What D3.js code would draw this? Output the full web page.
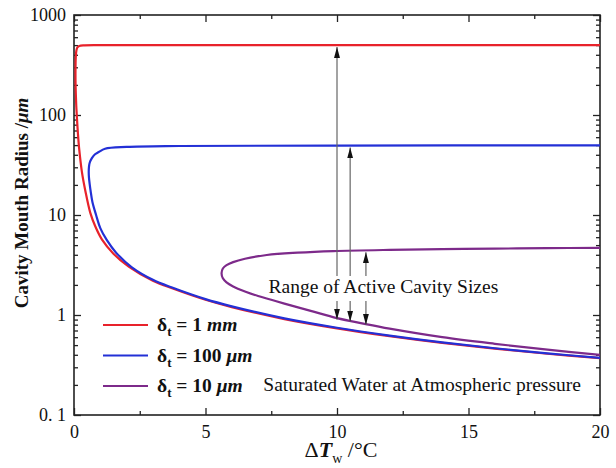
<!DOCTYPE html>
<html>
<head>
<meta charset="utf-8">
<script src="https://cdn.jsdelivr.net/npm/d3@7"></script>
<style>
  body { margin: 0; background: #fff; }
  svg text { font-family: "Liberation Serif", "Times New Roman", serif; fill: #111; }
</style>
</head>
<body>
<svg id="chart" width="616" height="468"></svg>
<script>
// wall superheat (°C) and cavity mouth radius (µm).
// each curve: upper branch from the right, round the nose, then out along the lower branch
const dT_1mm = [20, 10, 4, 1, 0.4, 0.2, 0.13, 0.1, 0.08, 0.068, 0.06, 0.056,
  0.06, 0.07, 0.085, 0.11, 0.15, 0.2, 0.3, 0.43, 0.62, 0.8, 1.06, 1.5, 2.08, 3, 3.73, 5, 6, 8, 10, 12, 14, 16, 18, 20];
const r_1mm = [500, 500, 499.5, 499, 497, 490, 474, 452, 420, 380, 330, 260,
  200, 160, 125, 95, 65, 45, 27, 17.5, 10.5, 7.8, 5.7, 4.1, 3.05, 2.2, 1.85, 1.42, 1.2, 0.91, 0.735, 0.615, 0.527, 0.462, 0.41, 0.37];

const dT_100um = [20, 10, 4, 2, 1.18, 0.94, 0.8, 0.68, 0.6, 0.57, 0.56,
  0.57, 0.6, 0.63, 0.7, 0.84, 1.0, 1.25, 1.6, 2.2, 3, 3.73, 5, 6, 8, 10, 12, 14, 16, 18, 20];
const r_100um = [49.8, 49.5, 49, 48, 46, 42.6, 40.5, 37, 33.5, 30.5, 27,
  23.5, 20, 17.5, 13.5, 10, 7.4, 5.6, 4.2, 3.0, 2.25, 1.88, 1.44, 1.22, 0.925, 0.745, 0.622, 0.532, 0.465, 0.413, 0.373];

const dT_10um = [20, 18, 16, 14, 12, 9.86, 8.5, 7.33, 6.5, 6.05, 5.8, 5.66, 5.61,
  5.66, 5.8, 6.05, 6.5, 7, 7.5, 8, 9, 10, 11, 12, 14, 16, 18, 20];
const r_10um = [4.7, 4.66, 4.61, 4.55, 4.48, 4.36, 4.2, 3.98, 3.65, 3.38, 3.15, 2.92, 2.62,
  2.33, 2.12, 1.93, 1.72, 1.55, 1.42, 1.3, 1.1, 0.93, 0.82, 0.73, 0.6, 0.515, 0.45, 0.4];

const seriesValue = ["1", "100", "10"];
const seriesUnit = ["mm", "μm", "μm"];
const seriesColor = ["#e8222b", "#2330d6", "#7d2a8a"];

const xTicks = [0, 5, 10, 15, 20];
const xMinorTicks = [2.5, 7.5, 12.5, 17.5];
const yTicks = [0.1, 1, 10, 100, 1000];
const yTickLabels = ["0. 1", "1", "10", "100", "1000"];

// the range-of-active-sizes arrows
const arrowDT = [10, 10.5, 11.1];
const arrowTop = [500, 49.6, 4.45];
const arrowBottom = [0.9, 0.86, 0.8];

const margin = { left: 74, right: 16, top: 15, bottom: 53 };
const W = 616, H = 468;

const svg = d3.select('#chart');

const x = d3.scaleLinear().domain([0, 20]).range([margin.left, W - margin.right]);
const y = d3.scaleLog().domain([0.1, 1000]).range([H - margin.bottom, margin.top]);

const series = [
  { dT: dT_1mm, r: r_1mm },
  { dT: dT_100um, r: r_100um },
  { dT: dT_10um, r: r_10um }
].map((s, i) => ({
  points: s.dT.map((t, j) => [t, s.r[j]]),
  color: seriesColor[i], value: seriesValue[i], unit: seriesUnit[i]
}));

let yMinor = [];
yTicks.slice(0, -1).forEach(d => {
  for (let k = 2; k <= 9; k++) yMinor.push(d * k);
});

svg.append('clipPath').attr('id', 'plotclip')
  .append('rect')
  .attr('x', x(0)).attr('y', y(1000))
  .attr('width', x(20) - x(0)).attr('height', y(0.1) - y(1000));

// axes, ticks pointing inward on all four sides
const styleAxis = (g) => {
  g.select('.domain').remove();
  g.selectAll('.tick line').attr('stroke', '#222').attr('stroke-width', 1.3);
  g.selectAll('.tick text').attr('font-size', 18).attr('fill', '#111')
    .style('font-family', '"Liberation Serif", "Times New Roman", serif');
};

svg.append('g').attr('transform', `translate(0,${y(0.1)})`)
  .call(d3.axisBottom(x).tickValues(xTicks).tickSize(-7).tickSizeOuter(0).tickPadding(10))
  .call(styleAxis);
svg.append('g').attr('transform', `translate(0,${y(0.1)})`)
  .call(d3.axisBottom(x).tickValues(xMinorTicks).tickSize(-4).tickSizeOuter(0).tickFormat(''))
  .call(styleAxis);
svg.append('g').attr('transform', `translate(0,${y(1000)})`)
  .call(d3.axisTop(x).tickValues(xTicks).tickSize(-7).tickSizeOuter(0).tickFormat(''))
  .call(styleAxis);
svg.append('g').attr('transform', `translate(0,${y(1000)})`)
  .call(d3.axisTop(x).tickValues(xMinorTicks).tickSize(-4).tickSizeOuter(0).tickFormat(''))
  .call(styleAxis);

svg.append('g').attr('transform', `translate(${x(0)},0)`)
  .call(d3.axisLeft(y).tickValues(yTicks).tickSize(-7).tickSizeOuter(0).tickPadding(8)
    .tickFormat((d, i) => yTickLabels[i]))
  .call(styleAxis);
svg.append('g').attr('transform', `translate(${x(0)},0)`)
  .call(d3.axisLeft(y).tickValues(yMinor).tickSize(-4).tickSizeOuter(0).tickFormat(''))
  .call(styleAxis);
svg.append('g').attr('transform', `translate(${x(20)},0)`)
  .call(d3.axisRight(y).tickValues(yTicks).tickSize(-7).tickSizeOuter(0).tickFormat(''))
  .call(styleAxis);
svg.append('g').attr('transform', `translate(${x(20)},0)`)
  .call(d3.axisRight(y).tickValues(yMinor).tickSize(-4).tickSizeOuter(0).tickFormat(''))
  .call(styleAxis);

svg.append('rect')
  .attr('x', x(0)).attr('y', y(1000))
  .attr('width', x(20) - x(0)).attr('height', y(0.1) - y(1000))
  .attr('fill', 'none').attr('stroke', '#222').attr('stroke-width', 1.6);

// curves
const line = d3.line()
  .x(d => x(d[0])).y(d => y(d[1]))
  .curve(d3.curveCatmullRom.alpha(0.5));

svg.append('g').attr('clip-path', 'url(#plotclip)')
  .selectAll('path').data(series).enter()
  .append('path')
  .attr('d', d => line(d.points))
  .attr('fill', 'none')
  .attr('stroke', d => d.color)
  .attr('stroke-width', 2.2);

// arrows
svg.append('defs').append('marker')
  .attr('id', 'head')
  .attr('viewBox', '0 0 11 6')
  .attr('refX', 11).attr('refY', 3)
  .attr('markerWidth', 11).attr('markerHeight', 6)
  .attr('markerUnits', 'userSpaceOnUse')
  .attr('orient', 'auto')
  .append('path').attr('d', 'M0,0 L11,3 L0,6 Z').attr('fill', '#111');

const gapTop = 276, gapBottom = 301;
const ag = svg.append('g');
arrowDT.forEach((t, i) => {
  ag.append('line')
    .attr('x1', x(t)).attr('x2', x(t))
    .attr('y1', gapTop).attr('y2', y(arrowTop[i]) + 2)
    .attr('stroke', '#666').attr('stroke-width', 1.2)
    .attr('marker-end', 'url(#head)');
  ag.append('line')
    .attr('x1', x(t)).attr('x2', x(t))
    .attr('y1', gapBottom).attr('y2', y(arrowBottom[i]))
    .attr('stroke', '#666').attr('stroke-width', 1.2)
    .attr('marker-end', 'url(#head)');
});

svg.append('text')
  .attr('x', x(7.4)).attr('y', 293)
  .attr('font-size', 19.5)
  .text('Range of Active Cavity Sizes');

svg.append('text')
  .attr('x', x(7.2)).attr('y', 391)
  .attr('font-size', 19.5)
  .text('Saturated Water at Atmospheric pressure');

// legend
const legend = svg.append('g');
series.forEach((s, i) => {
  const ly = 325 + i * 30.5;
  legend.append('line')
    .attr('x1', 103).attr('x2', 148).attr('y1', ly).attr('y2', ly)
    .attr('stroke', s.color).attr('stroke-width', 2.2);
  const t = legend.append('text')
    .attr('x', 157).attr('y', ly + 6)
    .attr('font-size', 19.5).attr('font-weight', 'bold');
  t.append('tspan').text('δ');
  t.append('tspan').attr('font-size', 13).attr('dy', 5).text('t');
  t.append('tspan').attr('dy', -5).text(' = ' + s.value + ' ');
  t.append('tspan').attr('font-style', 'italic').text(s.unit);
});

// axis titles
const yl = svg.append('text')
  .attr('transform', `translate(28,${203}) rotate(-90)`)
  .attr('text-anchor', 'middle')
  .attr('font-size', 19).attr('font-weight', 'bold');
yl.append('tspan').text('Cavity Mouth Radius /');
yl.append('tspan').attr('font-style', 'italic').text('μm');

const xl = svg.append('text')
  .attr('x', 341).attr('y', 457)
  .attr('text-anchor', 'middle')
  .attr('font-size', 22);
xl.append('tspan').text('Δ');
xl.append('tspan').attr('font-weight', 'bold').attr('font-style', 'italic').text('T');
xl.append('tspan').attr('font-size', 14).attr('dy', 6).text('w');
xl.append('tspan').attr('dy', -6).text(' /°C');
</script>
</body>
</html>
